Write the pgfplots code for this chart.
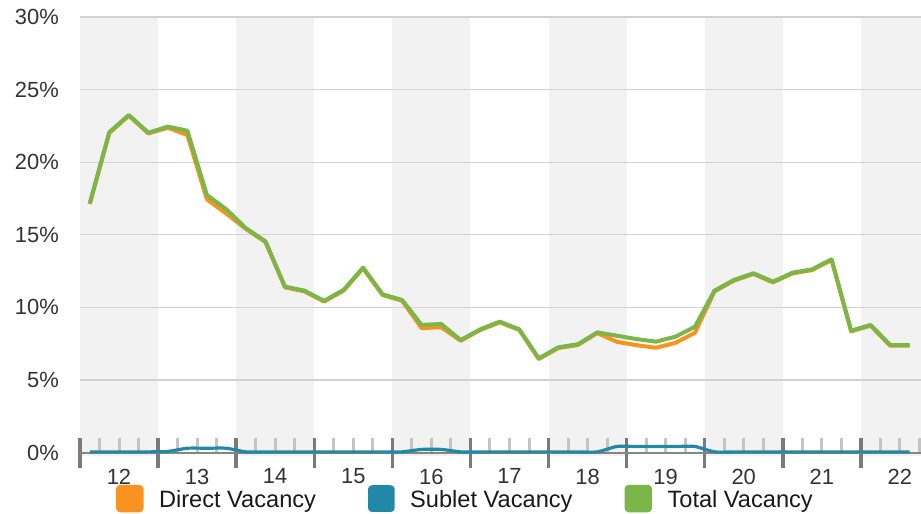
\documentclass[border=0pt]{standalone}
\usepackage{fontspec}
\setmainfont{Liberation Sans}
\usepackage{pgfplots}
\usepackage{pgfplotstable}
\pgfplotsset{compat=1.18}
\definecolor{cDirect}{HTML}{F7931E}
\definecolor{cSublet}{HTML}{2288A7}
\definecolor{cTotal}{HTML}{7AB648}
\definecolor{bandgray}{HTML}{F2F2F2}
\definecolor{gridgray}{HTML}{D2D2D2}
\definecolor{axisgray}{HTML}{858585}
\definecolor{majtick}{HTML}{7A7A7A}
\definecolor{mintick}{HTML}{C4C4C4}
\definecolor{labelgray}{HTML}{333333}

\pgfplotstableread{
x total sublet direct
12.125 17.17 0.05 17.12
12.375 22.06 0.05 22.01
12.625 23.25 0.05 23.20
12.875 22.03 0.05 21.98
13.125 22.45 0.08 22.37
13.375 22.17 0.30 21.87
13.625 17.74 0.30 17.44
13.875 16.75 0.30 16.45
14.125 15.45 0.05 15.40
14.375 14.55 0.05 14.50
14.625 11.43 0.05 11.38
14.875 11.15 0.05 11.10
15.125 10.45 0.05 10.40
15.375 11.20 0.05 11.15
15.625 12.74 0.05 12.69
15.875 10.90 0.05 10.85
16.125 10.51 0.05 10.46
16.375 8.79 0.22 8.57
16.625 8.86 0.22 8.64
16.875 7.75 0.05 7.70
17.125 8.49 0.05 8.44
17.375 9.02 0.05 8.97
17.625 8.49 0.05 8.44
17.875 6.49 0.05 6.44
18.125 7.25 0.05 7.20
18.375 7.46 0.05 7.41
18.625 8.28 0.05 8.23
18.875 8.05 0.42 7.63
19.125 7.82 0.42 7.40
19.375 7.64 0.42 7.22
19.625 7.98 0.42 7.56
19.875 8.67 0.42 8.25
20.125 11.15 0.05 11.10
20.375 11.89 0.05 11.84
20.625 12.35 0.05 12.30
20.875 11.77 0.05 11.72
21.125 12.39 0.05 12.34
21.375 12.62 0.05 12.57
21.625 13.31 0.05 13.26
21.875 8.40 0.05 8.35
22.125 8.79 0.05 8.74
22.375 7.41 0.05 7.36
22.625 7.41 0.05 7.36
}\vacancy

\begin{document}
\begin{tikzpicture}
\begin{axis}[
  at={(80bp,61.4bp)}, anchor=south west,
  scale only axis, width=841bp, height=435.6bp,
  xmin=12, xmax=22.77, ymin=0, ymax=30,
  clip=false, set layers,
  axis x line*=bottom, axis y line*=left,
  x axis line style={draw=axisgray, line width=2bp},
  y axis line style={draw=none},
  xtick={12,...,22},
  minor xtick={12.25,12.5,12.75,13.25,13.5,13.75,14.25,14.5,14.75,15.25,15.5,15.75,16.25,16.5,16.75,17.25,17.5,17.75,18.25,18.5,18.75,19.25,19.5,19.75,20.25,20.5,20.75,21.25,21.5,21.75,22.25,22.5,22.75},
  tick align=center,
  major tick length=30bp,
  minor tick length=15bp,
  major x tick style={draw=majtick, line width=3.5bp},
  minor x tick style={draw=mintick, line width=3bp, yshift=7.5bp},
  ytick={0,5,...,30},
  major y tick style={draw=none},
  ymajorgrids,
  major grid style={draw=gridgray, line width=1.3bp},
  /pgf/number format/assume math mode=true,
  yticklabel={\pgfmathprintnumber{\tick}\%},
  tick label style={font=\fontsize{22}{26}\selectfont, text=labelgray, inner sep=0pt},
  xticklabel style={anchor=north, xshift=39bp, yshift=-1bp, text depth=0pt},
  yticklabel style={anchor=east, xshift=-6bp},
  legend columns=3,
  legend image code/.code={\fill[#1, rounded corners=2.5bp] (0bp,-11.75bp) rectangle (23.5bp,11.75bp);},
  legend style={draw=none, fill=none, inner sep=0pt, outer sep=0pt,
    at={(0,0)}, anchor=west, xshift=36bp, yshift=-46bp,
    font=\fontsize{23.7}{26}\selectfont, text=black!90,
    nodes={inner sep=0pt, text height=17bp, text depth=0pt},
    /tikz/every odd column/.append style={column sep=15.5bp},
    /tikz/every even column/.append style={column sep=52bp}},
]
\addplot[fill=bandgray, draw=none, forget plot, on layer=axis background] coordinates {(12,-0.2) (13,-0.2) (13,30) (12,30)} -- cycle;
\addplot[fill=bandgray, draw=none, forget plot, on layer=axis background] coordinates {(14,-0.2) (15,-0.2) (15,30) (14,30)} -- cycle;
\addplot[fill=bandgray, draw=none, forget plot, on layer=axis background] coordinates {(16,-0.2) (17,-0.2) (17,30) (16,30)} -- cycle;
\addplot[fill=bandgray, draw=none, forget plot, on layer=axis background] coordinates {(18,-0.2) (19,-0.2) (19,30) (18,30)} -- cycle;
\addplot[fill=bandgray, draw=none, forget plot, on layer=axis background] coordinates {(20,-0.2) (21,-0.2) (21,30) (20,30)} -- cycle;
\addplot[fill=bandgray, draw=none, forget plot, on layer=axis background] coordinates {(22,-0.2) (22.77,-0.2) (22.77,30) (22,30)} -- cycle;

\addplot[cDirect, line width=4bp, line join=round] table[x=x, y=direct] {\vacancy};
\addlegendentry{Direct Vacancy}
\addplot[cSublet, line width=3.2bp, smooth, tension=0.4, line join=round] table[x=x, y=sublet] {\vacancy};
\addlegendentry{Sublet Vacancy}
\addplot[cTotal, line width=4bp, line join=round] table[x=x, y=total] {\vacancy};
\addlegendentry{Total Vacancy}
\end{axis}
\pgfresetboundingbox
\path[use as bounding box] (0,0) rectangle (921bp,514bp);
\end{tikzpicture}
\end{document}
